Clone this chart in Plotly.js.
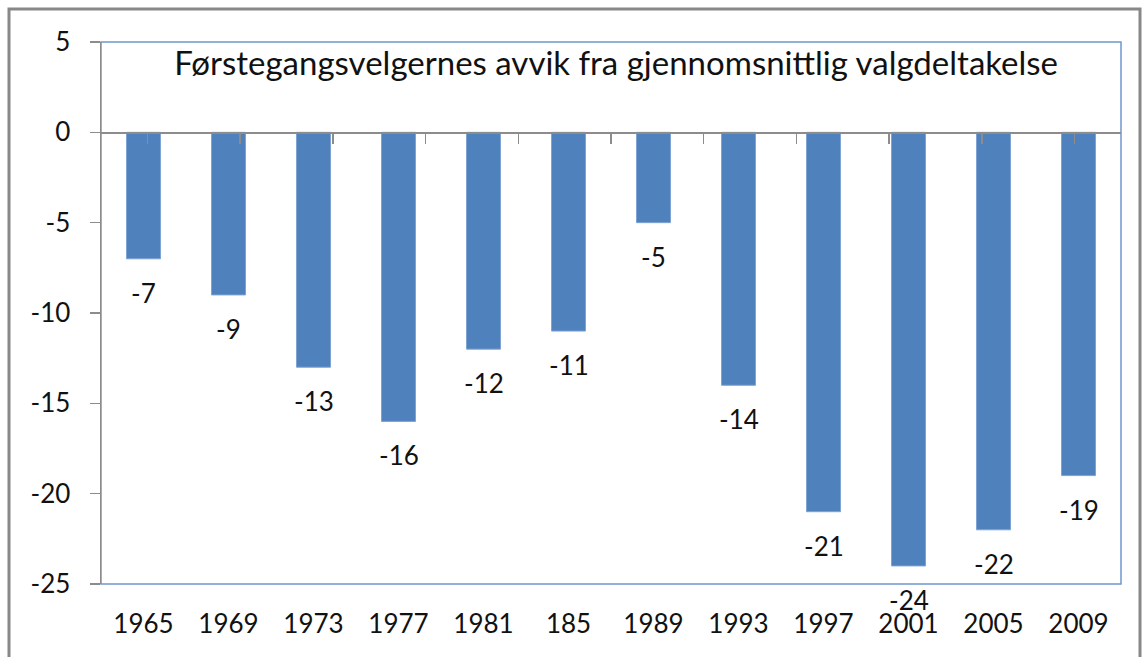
<!DOCTYPE html>
<html>
<head>
<meta charset="utf-8">
<script src="https://cdn.plot.ly/plotly-3.0.1.min.js"></script>
<style>html,body{margin:0;padding:0;background:#fff;}#chart{width:1145px;height:657px;}</style>
</head>
<body>
<div id="chart"></div>
<script>
const years = ['1965','1969','1973','1977','1981','185','1989','1993','1997','2001','2005','2009'];
const deviation = [-7,-9,-13,-16,-12,-11,-5,-14,-21,-24,-22,-19];
const yTickVals = [5,0,-5,-10,-15,-20,-25];
const yTickText = ['5','0','-5','-10','-15','-20','-25'];
const titleText = 'Førstegangsvelgernes avvik fra gjennomsnittlig valgdeltakelse';

const FONT = 'Lato, "Open Sans", sans-serif';
const gray = '#8c8c8c';

const traces = [
  {
    type: 'bar', x: years, y: deviation,
    marker: {color: '#4F81BD', line: {color: '#7ea3d4', width: 1}},
    hoverinfo: 'skip'
  },
  {
    type: 'scatter', mode: 'none', x: years, y: deviation,
    xaxis: 'x2', yaxis: 'y', hoverinfo: 'skip', showlegend: false
  }
];

// category axis: annotation x given as category index so numeric-looking labels are not read as numbers
const annotations = years.map((yr, i) => ({
  x: i, y: deviation[i], xref: 'x', yref: 'y',
  text: String(deviation[i]), showarrow: false,
  yanchor: 'middle', yshift: -34,
  font: {family: FONT, size: 26, color: '#111'}
}));

const layout = {
  width: 1145, height: 657,
  margin: {l: 101, r: 24, t: 42, b: 73},
  paper_bgcolor: '#fff', plot_bgcolor: '#fff',
  showlegend: false,
  bargap: 0.6,
  title: {
    text: titleText,
    font: {family: FONT, size: 33, color: '#111'},
    xref: 'paper', x: 0.505, xanchor: 'center',
    yref: 'paper', y: 0.961, yanchor: 'middle'
  },
  xaxis: {
    type: 'category', categoryarray: years, categoryorder: 'array',
    showline: false, showgrid: false, zeroline: false,
    ticks: '', ticklabelstandoff: 22,
    tickfont: {family: FONT, size: 26, color: '#111'}
  },
  xaxis2: {
    type: 'category', categoryarray: years, categoryorder: 'array',
    overlaying: 'x', anchor: 'free', position: 25/30,
    showline: true, linecolor: gray, linewidth: 1.5,
    ticks: 'outside', tickson: 'boundaries', ticklen: 10, tickcolor: gray, tickwidth: 1.5,
    showticklabels: false, showgrid: false, zeroline: false
  },
  yaxis: {
    range: [-25, 5], tickvals: yTickVals, ticktext: yTickText,
    showline: true, linecolor: gray, linewidth: 1.5,
    ticks: 'outside', ticklen: 10, tickcolor: gray, tickwidth: 1.5,
    ticklabelstandoff: 14,
    showgrid: false, zeroline: false,
    tickfont: {family: FONT, size: 26, color: '#111'}
  },
  shapes: [
    {type: 'rect', xref: 'paper', yref: 'paper', x0: 0, x1: 1, y0: 0, y1: 1,
     line: {color: '#6f97cc', width: 1.5}, layer: 'below'},
    {type: 'rect', xref: 'paper', yref: 'paper',
     x0: (9 - 101) / 1020, x1: (1140 - 101) / 1020,
     y0: -0.3, y1: 1 + (42 - 9) / 542,
     line: {color: '#888888', width: 3}, layer: 'below'}
  ],
  annotations: annotations
};

Plotly.newPlot('chart', traces, layout, {displayModeBar: false, staticPlot: true});
</script>
</body>
</html>
